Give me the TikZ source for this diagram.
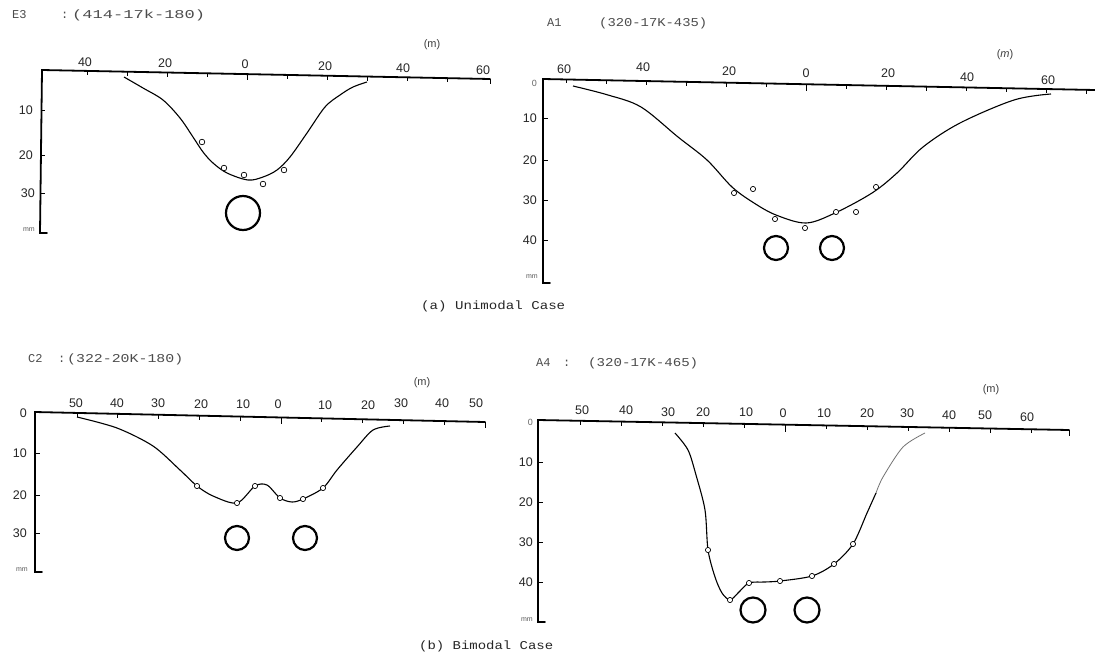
\documentclass[tikz,border=0pt]{standalone}
\usepackage{fontspec}
\setmainfont{Liberation Sans}
\newfontfamily\monof{Liberation Mono}
\tikzset{
 axisline/.style={line width=1.8pt, line cap=round, line join=miter},
 tickline/.style={line width=0.8pt},
 curveline/.style={line width=1.1pt},
 fadedline/.style={line width=0.8pt, draw=black!55},
 smallpt/.style={line width=0.7pt, fill=white},
 bigring/.style={line width=2.2pt},
 num/.style={font=\fontsize{12.5}{12.5}\selectfont, inner sep=0pt, text=black!85},
 ylab/.style={num, anchor=east},
 ttl/.style={font=\monof\fontsize{12}{12}\selectfont, inner sep=0pt, anchor=west, text=black!70},
 captext/.style={font=\monof\fontsize{12}{12}\selectfont, inner sep=0pt, anchor=west, text=black!85},
 unitlab/.style={font=\fontsize{11}{11}\selectfont, inner sep=0pt, text=black!75},
 mmlab/.style={font=\fontsize{7}{7}\selectfont, inner sep=0pt, anchor=east, text=black!65},
}
\begin{document}
\begin{tikzpicture}[x=1pt,y=-1pt]
\fill[white] (0,0) rectangle (1095,656);
\useasboundingbox (0,0) rectangle (1095,656);

% ================= Panel TL : E3 =================
\node[ttl] (tlt1) at (12,15) {E3};
\node[ttl] (tlt2) at (61,15) {:};
\node[ttl] (tlt3) at (72,15) {\resizebox{133pt}{\height}{(414-17k-180)}};
\node[unitlab] (tlm) at (432,45) {(m)};
\draw[axisline] (490,79) -- (42,70) -- (40,233) -- (47,233);
\draw[tickline] (490,79) -- (490,84);
\foreach \x in {87,127,...,447} {\pgfmathsetmacro\yy{70+(\x-42)*9/448}
  \draw[tickline] (\x,\yy) -- (\x,\yy+4);}
\draw[tickline] (247,74) -- (247,80);
\foreach \y in {110,155,193} {\draw[tickline] (41,\y) -- (45,\y);}
\node[num] (tlx1) at (85,62) {40};
\node[num] (tlx2) at (165,63) {20};
\node[num] (tlx3) at (245,64) {0};
\node[num] (tlx4) at (325,66) {20};
\node[num] (tlx5) at (403,68) {40};
\node[num] (tlx6) at (483,70) {60};
\node[ylab] (tly1) at (33,110) {10};
\node[ylab] (tly2) at (33,155) {20};
\node[ylab] (tly3) at (35,193) {30};
\node[mmlab] (tlmm) at (35,230) {mm};
\draw[curveline] plot[smooth, tension=0.55] coordinates {(124,77) (143,88) (163,100) (180,118) (193,137) (203,152) (213,163) (227,173) (248,180) (263,177) (277,170) (290,157) (307,133) (325,107) (340,95) (353,87) (367,82)};
\foreach \p in {(202,142),(224,168),(244,175),(263,184),(284,170)} {\draw[smallpt] \p circle[radius=2.8pt];}
\draw[bigring] (243,213) circle[radius=17pt];

% ================= Panel TR : A1 =================
\node[ttl] (trt1) at (547,23) {A1};
\node[ttl] (trt2) at (599,23) {\resizebox{108pt}{\height}{(320-17K-435)}};
\node[unitlab] (trm) at (1005,55) {(\textit{m})};
\draw[axisline] (1095,90) -- (543,79) -- (543,283) -- (550,283);
\foreach \x in {566,606,...,1086} {\pgfmathsetmacro\yy{79+(\x-543)*11/552}
  \draw[tickline] (\x,\yy) -- (\x,\yy+4);}
\draw[tickline] (806,84) -- (806,91);
\foreach \y in {118,160,200,240} {\draw[tickline] (544,\y) -- (548,\y);}
\node[num] (trx1) at (564,69) {60};
\node[num] (trx2) at (643,67) {40};
\node[num] (trx3) at (729,71) {20};
\node[num] (trx4) at (806,73) {0};
\node[num] (trx5) at (888,73) {20};
\node[num] (trx6) at (967,77) {40};
\node[num] (trx7) at (1048,80) {60};
\node[ylab, font=\fontsize{9}{9}\selectfont, text=black!60] (try0) at (537,83) {0};
\node[ylab] (try1) at (537,118) {10};
\node[ylab] (try2) at (537,160) {20};
\node[ylab] (try3) at (537,200) {30};
\node[ylab] (try4) at (537,240) {40};
\node[mmlab] (trmm) at (538,277) {mm};
\draw[curveline] plot[smooth, tension=0.55] coordinates {(573,86) (608,95) (641,107) (678,137) (707,160) (732,187) (754,203) (776,215) (806,223) (835,213) (872,193) (897,173) (923,147) (960,123) (1014,100) (1051,94)};
\foreach \p in {(734,193),(753,189),(775,219),(805,228),(836,212),(856,212),(876,187)} {\draw[smallpt] \p circle[radius=2.6pt];}
\draw[bigring] (776,248) circle[radius=12pt];
\draw[bigring] (832,248) circle[radius=12pt];

\node[captext] (capa) at (421,306) {\resizebox{144pt}{\height}{(a) Unimodal Case}};

% ================= Panel BL : C2 =================
\node[ttl] (blt1) at (28,359) {C2};
\node[ttl] (blt2) at (58,359) {:};
\node[ttl] (blt3) at (67,359) {\resizebox{116pt}{\height}{(322-20K-180)}};
\node[unitlab] (blm) at (422,383) {(m)};
\draw[axisline] (485,422) -- (35,412) -- (35,572) -- (42,572);
\draw[tickline] (485,422) -- (485,428);
\foreach \k in {0,...,9} {\pgfmathsetmacro\xx{77+40.8*\k}\pgfmathsetmacro\yy{412+(\xx-35)*10/450}
  \draw[tickline] (\xx,\yy) -- (\xx,\yy+4);}
\draw[tickline] (281,417.5) -- (281,424);
\foreach \y in {453,495,533} {\draw[tickline] (36,\y) -- (40,\y);}
\node[num] (blx1) at (76,403) {50};
\node[num] (blx2) at (117,403) {40};
\node[num] (blx3) at (158,403) {30};
\node[num] (blx4) at (201,404) {20};
\node[num] (blx5) at (243,404) {10};
\node[num] (blx6) at (278,404) {0};
\node[num] (blx7) at (325,405) {10};
\node[num] (blx8) at (368,405) {20};
\node[num] (blx9) at (401,403) {30};
\node[num] (blx10) at (442,403) {40};
\node[num] (blx11) at (476,403) {50};
\node[ylab] (bly0) at (27,413) {0};
\node[ylab] (bly1) at (27,453) {10};
\node[ylab] (bly2) at (27,495) {20};
\node[ylab] (bly3) at (27,533) {30};
\node[mmlab] (blmm) at (28,570) {mm};
\draw[curveline] plot[smooth, tension=0.5] coordinates {(77,417) (117,428) (153,446) (180,470) (197,486) (213,496) (237,503) (255,486) (267,485) (280,498) (292,502) (303,499) (323,488) (337,470) (357,447) (373,430) (390,426)};
\foreach \p in {(197,486),(237,503),(255,486),(280,498),(303,499),(323,488)} {\draw[smallpt] \p circle[radius=2.6pt];}
\draw[bigring] (237,538) circle[radius=12pt];
\draw[bigring] (305,538) circle[radius=12pt];

% ================= Panel BR : A4 =================
\node[ttl] (brt1) at (536,363) {A4};
\node[ttl] (brt2) at (563,363) {:};
\node[ttl] (brt3) at (588,363) {\resizebox{110pt}{\height}{(320-17K-465)}};
\node[unitlab] (brm) at (991,390) {(m)};
\draw[axisline] (1069,430) -- (538,420) -- (538,622) -- (545,622);
\draw[tickline] (1069,430) -- (1069,436);
\foreach \k in {0,...,11} {\pgfmathsetmacro\xx{580+41*\k}\pgfmathsetmacro\yy{420+(\xx-538)*10/531}
  \draw[tickline] (\xx,\yy) -- (\xx,\yy+4);}
\draw[tickline] (785,424.5) -- (785,432);
\foreach \y in {462,502,542,582} {\draw[tickline] (539,\y) -- (543,\y);}
\node[num] (brx1) at (582,410) {50};
\node[num] (brx2) at (626,410) {40};
\node[num] (brx3) at (668,412) {30};
\node[num] (brx4) at (703,412) {20};
\node[num] (brx5) at (746,412) {10};
\node[num] (brx6) at (783,413) {0};
\node[num] (brx7) at (824,413) {10};
\node[num] (brx8) at (867,413) {20};
\node[num] (brx9) at (907,413) {30};
\node[num] (brx10) at (949,415) {40};
\node[num] (brx11) at (985,415) {50};
\node[num] (brx12) at (1027,417) {60};
\node[ylab, font=\fontsize{9}{9}\selectfont, text=black!60] (bry0) at (533,422) {0};
\node[ylab] (bry1) at (533,462) {10};
\node[ylab] (bry2) at (533,502) {20};
\node[ylab] (bry3) at (533,542) {30};
\node[ylab] (bry4) at (533,582) {40};
\node[mmlab] (brmm) at (533,620) {mm};
\draw[curveline] plot[smooth, tension=0.5] coordinates {(675,433) (688,450) (696,475) (705,510) (708,550) (715,577) (722,593) (730,600) (738,593) (749,583) (765,582) (780,581) (812,576) (834,564) (853,544) (867,513) (876,493)};
\draw[fadedline] plot[smooth, tension=0.5] coordinates {(876,493) (883,477) (903,447) (925,433)};
\foreach \p in {(708,550),(730,600),(749,583),(780,581),(812,576),(834,564),(853,544)} {\draw[smallpt] \p circle[radius=2.6pt];}
\draw[bigring] (753,610) circle[radius=12.5pt];
\draw[bigring] (807,610) circle[radius=12.5pt];

\node[captext] (capb) at (419,646) {\resizebox{134pt}{\height}{(b) Bimodal Case}};
\end{tikzpicture}
\end{document}
